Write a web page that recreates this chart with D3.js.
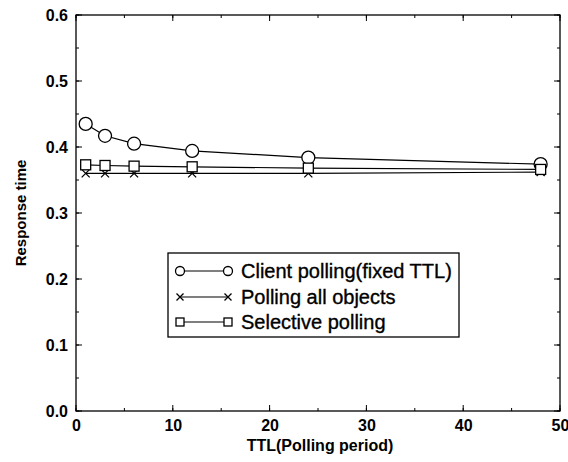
<!DOCTYPE html>
<html><head><meta charset="utf-8">
<script src="https://cdn.jsdelivr.net/npm/d3@7"></script>
<style>body{margin:0;background:#fff}text{font-family:"Liberation Sans",Arial,sans-serif}</style>
</head><body><svg id="c" width="568" height="462"></svg>
<script>
const xs = [1, 3, 6, 12, 24, 48];
const clientPolling = [0.435, 0.417, 0.405, 0.394, 0.384, 0.374];
const pollingAll = [0.360, 0.360, 0.360, 0.360, 0.360, 0.362];
const selective = [0.373, 0.372, 0.371, 0.370, 0.368, 0.366];
const seriesNames = ["Client polling(fixed TTL)", "Polling all objects", "Selective polling"];
const xTicks = [0, 10, 20, 30, 40, 50];
const yTicks = [0.0, 0.1, 0.2, 0.3, 0.4, 0.5, 0.6];

const svg = d3.select("#c");
const L = 76, R = 560, T = 15, B = 411;
const x = d3.scaleLinear().domain([0, 50]).range([L, R]);
const y = d3.scaleLinear().domain([0, 0.6]).range([B, T]);

const g = svg.append("g");
g.append("rect").attr("x", L).attr("y", T).attr("width", R - L).attr("height", B - T)
  .attr("fill", "none").attr("stroke", "#000").attr("stroke-width", 1.3);

const xMinor = d3.range(0, 51, 5), yMinor = d3.range(0, 0.601, 0.05);
function tickLines(vals, len, isX) {
  vals.forEach(v => {
    if (isX) {
      const px = x(v);
      g.append("line").attr("x1", px).attr("x2", px).attr("y1", B).attr("y2", B - len).attr("stroke", "#000");
      g.append("line").attr("x1", px).attr("x2", px).attr("y1", T).attr("y2", T + len).attr("stroke", "#000");
    } else {
      const py = y(v);
      g.append("line").attr("y1", py).attr("y2", py).attr("x1", L).attr("x2", L + len).attr("stroke", "#000");
      g.append("line").attr("y1", py).attr("y2", py).attr("x1", R).attr("x2", R - len).attr("stroke", "#000");
    }
  });
}
tickLines(xMinor, 3, true);
tickLines(xTicks, 6, true);
tickLines(yMinor, 3, false);
tickLines(yTicks, 6, false);

const xAxis = svg.append("g").attr("transform", `translate(0,${B})`)
  .call(d3.axisBottom(x).tickValues(xTicks).tickFormat(d3.format("d")).tickSize(0).tickPadding(9));
const yAxis = svg.append("g").attr("transform", `translate(${L},0)`)
  .call(d3.axisLeft(y).tickValues(yTicks).tickFormat(d3.format(".1f")).tickSize(0).tickPadding(8));
[xAxis, yAxis].forEach(a => {
  a.select(".domain").remove();
  a.selectAll("text").attr("font-size", 16).attr("font-weight", "bold")
    .attr("font-family", "Liberation Sans, Arial, sans-serif").attr("fill", "#000");
});

svg.append("text").attr("x", 320).attr("y", 451).attr("text-anchor", "middle")
  .attr("font-size", 16).attr("font-weight", "bold").text("TTL(Polling period)");
svg.append("text").attr("transform", `translate(26,${(T + B) / 2}) rotate(-90)`).attr("text-anchor", "middle")
  .attr("font-size", 15).attr("font-weight", "bold").text("Response time");

function drawMarker(sel, type, cx, cy, s) {
  if (type === "circle") {
    sel.append("circle").attr("cx", cx).attr("cy", cy).attr("r", s).attr("fill", "#fff").attr("stroke", "#000").attr("stroke-width", 1.3);
  } else if (type === "square") {
    sel.append("rect").attr("x", cx - s).attr("y", cy - s).attr("width", 2 * s).attr("height", 2 * s)
      .attr("fill", "#fff").attr("stroke", "#000").attr("stroke-width", 1.3);
  } else {
    sel.append("path").attr("d", `M${cx - s},${cy - s}L${cx + s},${cy + s}M${cx - s},${cy + s}L${cx + s},${cy - s}`)
      .attr("stroke", "#000").attr("stroke-width", 1.3);
  }
}
const series = [
  { name: seriesNames[0], vals: clientPolling, type: "circle", size: 6.5 },
  { name: seriesNames[1], vals: pollingAll, type: "cross", size: 4 },
  { name: seriesNames[2], vals: selective, type: "square", size: 5 }
];
const line = d3.line().x((d, i) => x(xs[i])).y(d => y(d));
series.forEach(s => {
  g.append("path").datum(s.vals).attr("d", line).attr("fill", "none").attr("stroke", "#000").attr("stroke-width", 1.2);
});
series.forEach(s => {
  s.vals.forEach((v, i) => drawMarker(g, s.type, x(xs[i]), y(v), s.size));
});

const lg = svg.append("g");
lg.append("rect").attr("x", 168).attr("y", 253).attr("width", 291).attr("height", 84)
  .attr("fill", "#fff").attr("stroke", "#000").attr("stroke-width", 1.3);
const rowsY = [271, 297, 322];
const lsize = [4.5, 3.5, 4];
series.forEach((s, i) => {
  const yy = rowsY[i];
  lg.append("line").attr("x1", 180).attr("x2", 228).attr("y1", yy).attr("y2", yy).attr("stroke", "#000").attr("stroke-width", 1.2);
  drawMarker(lg, s.type, 180, yy, lsize[i]);
  drawMarker(lg, s.type, 228, yy, lsize[i]);
  lg.append("text").attr("x", 241).attr("y", yy + 7).attr("font-size", 20).attr("fill", "#000")
    .attr("stroke", "#000").attr("stroke-width", 0.35).text(s.name);
});
</script></body></html>
